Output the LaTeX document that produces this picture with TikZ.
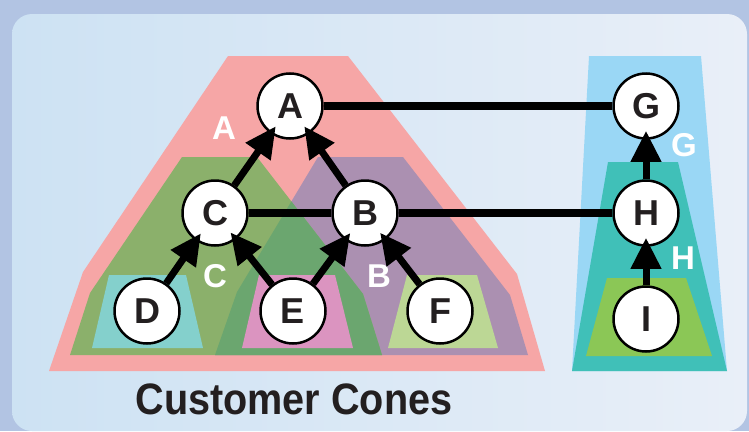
\documentclass[tikz,border=0pt]{standalone}
\usepackage{fontspec}
\setmainfont{Liberation Sans}
\usetikzlibrary{arrows.meta}
\definecolor{outerbg}{HTML}{B2C4E3}
\definecolor{panelL}{HTML}{CDE2F3}
\definecolor{panelR}{HTML}{E9EFF8}
\definecolor{conA}{HTML}{F6A6A6}
\definecolor{conC}{HTML}{8BB06B}
\definecolor{conB}{HTML}{AB90B1}
\definecolor{ovl}{HTML}{6BA66F}
\definecolor{boxD}{HTML}{84D0CC}
\definecolor{boxE}{HTML}{DB94C0}
\definecolor{boxF}{HTML}{BCD795}
\definecolor{conG}{HTML}{9AD7F5}
\definecolor{conH}{HTML}{40C0B8}
\definecolor{boxI}{HTML}{8BC756}
\definecolor{txt}{HTML}{231F20}
\begin{document}
\begin{tikzpicture}[x=1pt,y=-1pt,
  vtx/.style={circle,draw=black,line width=2.5pt,fill=white,minimum size=65pt,inner sep=0pt,
    font=\fontsize{36}{36}\selectfont\bfseries,text=txt},
  lbl/.style={text=white,font=\fontsize{33}{33}\selectfont\bfseries,inner sep=0pt},
  arr/.style={line width=7pt,-{Triangle[length=31pt,width=29pt]},shorten >=-9pt},
  lnk/.style={line width=8pt}]
\useasboundingbox (0,0) rectangle (749,431);
% background
\fill[outerbg] (0,0) rectangle (749,431);
\shade[left color=panelL,right color=panelR,rounded corners=20pt] (12,14) rectangle (747,431);
% cone A
\fill[conA] (228,56) -- (348,56) -- (517,274) -- (545,371) -- (49,371) -- (83,272) -- cycle;
% cone B
\fill[conB] (318,157) -- (403,157) -- (510,295) -- (528,355) -- (215,355) -- (237,292) -- cycle;
% cone C
\fill[conC] (182,157) -- (257,157) -- (363,294) -- (382,355) -- (70,355) -- (90,293) -- cycle;
% overlap of C and B
\begin{scope}
  \clip (318,157) -- (403,157) -- (510,295) -- (528,355) -- (215,355) -- (237,292) -- cycle;
  \fill[ovl] (182,157) -- (257,157) -- (363,294) -- (382,355) -- (70,355) -- (90,293) -- cycle;
\end{scope}
% boxes
\fill[boxD] (109,275) -- (186,275) -- (203,348) -- (92,348) -- cycle;
\fill[boxE] (259,275) -- (335,275) -- (353,348) -- (242,348) -- cycle;
\fill[boxF] (407,275) -- (477,275) -- (498,348) -- (388,348) -- cycle;
% right cones
\fill[conG] (589,56) -- (701,56) -- (727,371) -- (572,371) -- cycle;
\fill[conH] (608,162) -- (678,162) -- (727,371) -- (572,371) -- cycle;
\fill[boxI] (607,278) -- (686,278) -- (712,356) -- (586,356) -- cycle;
% labels
\node[lbl] (lA) at (224,128) {A};
\node[lbl] (lC) at (215,276) {C};
\node[lbl] (lB) at (379,276) {B};
\node[lbl] (lG) at (684,145) {G};
\node[lbl] (lH) at (683,258) {H};
% vertices
\node[vtx] (A) at (290,106) {A};
\node[vtx] (C) at (215,213) {C};
\node[vtx] (B) at (365,213) {B};
\node[vtx] (D) at (147,311) {D};
\node[vtx] (E) at (293,311) {E};
\node[vtx] (F) at (440,311) {F};
\node[vtx] (G) at (646,106) {G};
\node[vtx] (H) at (646,213) {H};
\node[vtx] (I) at (646,319) {I};
% links
\draw[lnk] (A) -- (G);
\draw[lnk] (C) -- (B);
\draw[lnk] (B) -- (H);
% arrows
\draw[arr] (C) -- (A);
\draw[arr] (B) -- (A);
\draw[arr] (D) -- (C);
\draw[arr] (E) -- (C);
\draw[arr] (E) -- (B);
\draw[arr] (F) -- (B);
\draw[arr] (H) -- (G);
\draw[arr] (I) -- (H);
% caption
\node[text=txt,font=\fontsize{44}{44}\selectfont\bfseries,xscale=0.9,transform shape,inner sep=0pt] (cap) at (294,399) {Customer Cones};
\end{tikzpicture}
\end{document}
